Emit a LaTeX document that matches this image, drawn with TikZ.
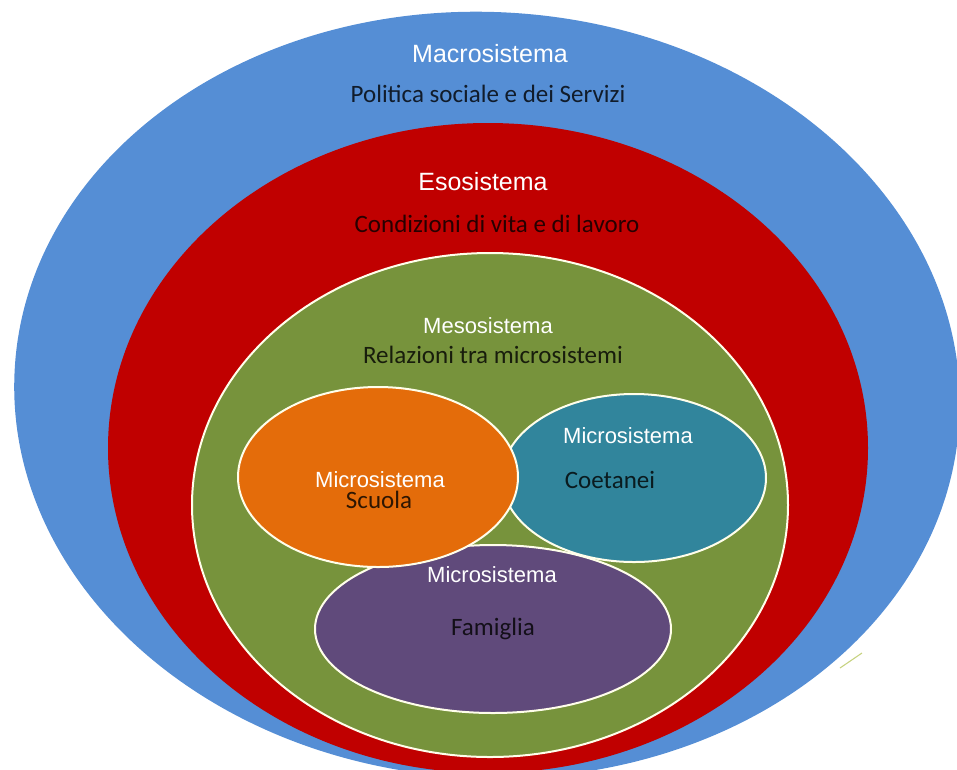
\documentclass[tikz,border=0pt]{standalone}
\usepackage{fontspec}
\setmainfont{Carlito}
\setsansfont{Liberation Sans}
\definecolor{macro}{HTML}{558ED5}
\definecolor{eso}{HTML}{C00000}
\definecolor{meso}{HTML}{77933C}
\definecolor{scuola}{HTML}{E46C0A}
\definecolor{coetanei}{HTML}{31859C}
\definecolor{famiglia}{HTML}{604A7B}
\begin{document}
\begin{tikzpicture}[x=0.75pt,y=-0.75pt]
\tikzstyle{level} = [font=\sffamily\fontsize{18.75}{20}\selectfont,text=white,anchor=base];
\tikzstyle{sublevel} = [font=\sffamily\fontsize{16.5}{18}\selectfont,text=white,anchor=base];
\tikzstyle{caption} = [font=\fontsize{18.75}{20}\selectfont,anchor=base];
\tikzstyle{ring} = [draw=white!92!yellow,line width=1.5pt];
\useasboundingbox (0,0) rectangle (957,769);
\clip (0,0) rectangle (957,769);

% nested systems, outermost first
\fill [macro,rotate around={-3:(487,395)}] (487,395) ellipse (473 and 383);
\fill [eso] (488,448) ellipse (380 and 325);
\filldraw [ring,fill=meso] (490,505) ellipse (298 and 252);
\filldraw [ring,fill=famiglia] (493,629) ellipse (178 and 84);
\filldraw [ring,fill=coetanei] (634,478) ellipse (132 and 84);
\filldraw [ring,fill=scuola] (378,477) ellipse (140 and 90);
\draw [meso!70!yellow,line width=0.8pt,opacity=0.6] (840,668) -- (862,653);

\node [level] (macro) at (490,62) {Macrosistema};
\node [caption,text=black!80!macro] (politica) at (488,102) {Politica sociale e dei Servizi};
\node [level] (eso) at (483,190) {Esosistema};
\node [caption,text=black!80!eso] (condizioni) at (497,232) {Condizioni di vita e di lavoro};
\node [sublevel] (meso) at (488,333) {Mesosistema};
\node [caption,text=black!80!meso] (relazioni) at (493,363) {Relazioni tra microsistemi};
\node [sublevel] (micro1) at (380,487) {Microsistema};
\node [caption,text=black!80!scuola] (scuola) at (379,508) {Scuola};
\node [sublevel] (micro2) at (628,443) {Microsistema};
\node [caption,text=black!80!coetanei] (coetanei) at (610,488) {Coetanei};
\node [sublevel] (micro3) at (492,582) {Microsistema};
\node [caption,text=black!80!famiglia] (famiglia) at (493,635) {Famiglia};
\end{tikzpicture}
\end{document}
